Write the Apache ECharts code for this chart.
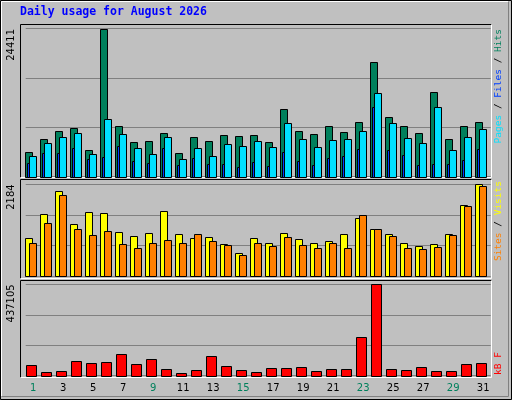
<!DOCTYPE html>
<html><head><meta charset="utf-8">
<script src="https://cdn.jsdelivr.net/npm/echarts@6/dist/echarts.min.js"></script>
<style>html,body{margin:0;padding:0;background:#C0C0C0}#c{width:512px;height:400px}</style>
</head><body><div id="c"></div>
<script>
const days = ['1','2','3','4','5','6','7','8','9','10','11','12','13','14','15','16','17','18','19','20','21','22','23','24','25','26','27','28','29','30','31'];
const weekendDays = ['1','2','8','9','15','16','22','23','29','30'];
const hits = [4032,6186,7511,8008,4363,24411,8340,5689,5854,7180,3866,6517,5854,6848,6683,6848,5689,11156,7511,7014,8340,7345,9002,18943,9830,8340,7180,13973,6186,8340,9002];
const files = [3369,5523,6517,7180,3700,9499,7014,4694,3700,6517,2872,4694,3369,5357,5026,5854,4860,8837,6186,4860,6020,6186,7511,13807,8837,6351,5523,11487,4363,6517,7842];
const pages = [2209,3866,3866,4694,2872,3203,5026,2540,2209,4694,1878,3037,2043,2043,1546,2375,1712,4032,2540,1878,3037,3369,4529,11487,4363,3534,1878,2043,2043,2706,4529];
const visits = [902,1472,2018,1234,1519,1496,1045,950,1021,1543,997,902,926,760,546,902,783,1021,878,783,831,997,1377,1116,997,783,712,760,997,1685,2184];
const sites = [783,1258,1923,1116,973,1068,760,665,783,855,783,997,831,736,499,783,712,926,736,665,783,665,1448,1116,950,665,641,688,973,1662,2137];
const kbytes = [49454,15953,20739,68597,59025,63811,102098,54239,78168,30310,11167,25524,92526,44667,25524,15953,35096,35096,39882,20739,30310,30310,183456,437105,30310,25524,39882,20739,20739,54239,59025];
const maxLabels = ['24411','2184','437105'];

const chart = echarts.init(document.getElementById('c'), null, {renderer:'canvas'});
const GL = 25.7, GR = 21.3;
const grids = [
  {left:GL, right:GR, top:28.7, height:148},
  {left:GL, right:GR, top:184.3, height:92},
  {left:GL, right:GR, top:284.3, height:91.4}
];
const maxes = [24411, 2184, 437105];
function barSeries(gi, data, color, off, w, z) {
  return {
    type:'custom', xAxisIndex:gi, yAxisIndex:gi, z:z,
    data: data.map((v,i)=>[i,v]),
    renderItem:(params, api)=>{
      const top = api.coord([api.value(0), api.value(1)]);
      const base = api.coord([api.value(0), 0]);
      return {type:'rect', shape:{x:Math.round(top[0]+off)+0.5, y:Math.round(top[1])+0.5, width:w, height:Math.round(base[1])-Math.round(top[1])},
        style:{fill:color, stroke:'#000', lineWidth:1}};
    }
  };
}
const xAxes = grids.map((g,i)=>({type:'category', gridIndex:i, data:days, boundaryGap:true,
  axisLine:{show:false}, axisTick:{show:false},
  axisLabel:{show:i===2, margin:8, fontSize:10, fontFamily:'DejaVu Sans',
    color:(v)=>weekendDays.includes(v)?'#00805C':'#000'}}));
const yAxes = grids.map((g,i)=>({type:'value', gridIndex:i, min:0, max:maxes[i], interval:maxes[i]/3,
  axisLine:{show:false}, axisTick:{show:false}, axisLabel:{show:false},
  splitLine:{show:true, lineStyle:{color:'#808080', width:1}}}));

function bevel(x1,y1,x2,y2,dark,light){
  return [
    {type:'line', shape:{x1:x1,y1:y1,x2:x2,y2:y1}, style:{stroke:dark,lineWidth:1}},
    {type:'line', shape:{x1:x1,y1:y1,x2:x1,y2:y2}, style:{stroke:dark,lineWidth:1}},
    {type:'line', shape:{x1:x2,y1:y1,x2:x2,y2:y2}, style:{stroke:light,lineWidth:1}},
    {type:'line', shape:{x1:x1,y1:y2,x2:x2,y2:y2}, style:{stroke:light,lineWidth:1}}
  ];
}
const graphics = [].concat(
  bevel(0.5,0.5,511.5,399.5,'#000','#000'),
  bevel(1.5,1.5,508.5,396.5,'#fff','#808080'),
  bevel(20.5,24.5,491.5,177.5,'#000','#fff'),
  bevel(20.5,179.5,491.5,278.5,'#000','#fff'),
  bevel(20.5,280.5,491.5,377.5,'#000','#fff'),
  [{type:'text', left:20, top:6, style:{text:'Daily usage for August 2026', fill:'#0000FF', font:'bold 11.5px "DejaVu Sans Mono"'}}],
  [29, 184.3, 284.3].map((y,i)=>({type:'text', x:11, y:y, rotation:Math.PI/2,
    style:{text:maxLabels[i], fill:'#000', font:'10px "DejaVu Sans"', align:'right', verticalAlign:'middle'}})),
  [
    {type:'text', x:499, y:29, rotation:Math.PI/2, style:{align:'right', verticalAlign:'middle', font:'9.5px "DejaVu Sans Mono"',
      rich:{p:{fill:'#00E0FF', font:'9.5px "DejaVu Sans Mono"'}, f:{fill:'#0040FF', font:'9.5px "DejaVu Sans Mono"'}, h:{fill:'#00805C', font:'9.5px "DejaVu Sans Mono"'}, s:{fill:'#000', font:'9.5px "DejaVu Sans Mono"'}},
      text:'{p|Pages}{s| / }{f|Files}{s| / }{h|Hits}'}},
    {type:'text', x:499, y:181, rotation:Math.PI/2, style:{align:'right', verticalAlign:'middle', font:'9.5px "DejaVu Sans Mono"',
      rich:{o:{fill:'#FF8000', font:'9.5px "DejaVu Sans Mono"'}, y:{fill:'#FFFF00', font:'9.5px "DejaVu Sans Mono"'}, s:{fill:'#000', font:'9.5px "DejaVu Sans Mono"'}},
      text:'{o|Sites}{s| / }{y|Visits}'}},
    {type:'text', x:499, y:352, rotation:Math.PI/2, style:{align:'right', verticalAlign:'middle', font:'9.5px "DejaVu Sans Mono"', fill:'#FF0000', text:'kB F'}}
  ]
);

chart.setOption({
  backgroundColor:'#C0C0C0', animation:false,
  grid:grids, xAxis:xAxes, yAxis:yAxes,
  graphic:graphics,
  series:[
    barSeries(0, hits, '#00805C', -8, 7, 2),
    barSeries(0, files, '#00E0FF', -4, 7, 3),
    barSeries(0, pages, '#0040FF', -6, 2, 4),
    barSeries(1, visits, '#FFFF00', -8, 7, 2),
    barSeries(1, sites, '#FF8000', -4, 7, 3),
    barSeries(2, kbytes, '#FF0000', -7, 10, 2)
  ]
});
</script></body></html>
